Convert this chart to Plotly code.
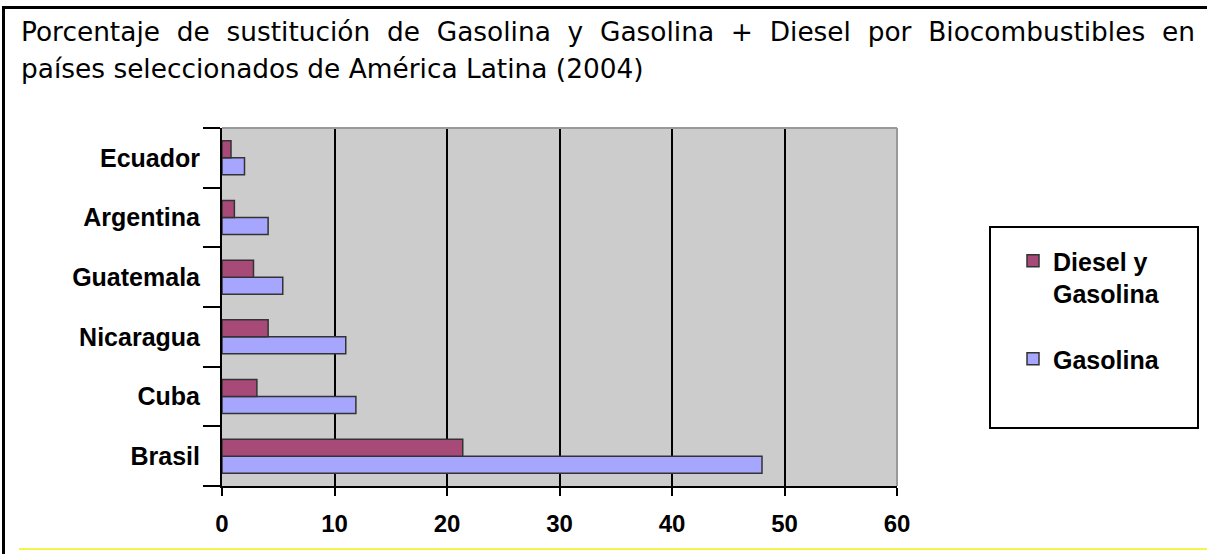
import plotly.graph_objects as go

# ---- data ----
countries = ["Brasil", "Cuba", "Nicaragua", "Guatemala", "Argentina", "Ecuador"]
gasolina = [48.0, 11.9, 11.0, 5.4, 4.1, 2.0]
diesel_gasolina = [21.4, 3.1, 4.1, 2.8, 1.1, 0.8]
x_ticks = [0, 10, 20, 30, 40, 50, 60]
name_diesel = "Diesel y<br>Gasolina"
name_gasolina = "Gasolina"
title_line1_words = ["Porcentaje", "de", "sustitución", "de", "Gasolina", "y",
                     "Gasolina", "+", "Diesel", "por", "Biocombustibles", "en"]
title_line2 = "países seleccionados de América Latina (2004)"

# ---- layout geometry (pixels) ----
W, H = 1207, 554
L, R, T, B = 222, 897, 128, 486


def fx(px):
    return (px - L) / (R - L)


def fy(py):
    return (B - py) / (B - T)


def bold(size):
    return dict(family="Liberation Sans, Arial, sans-serif", size=size,
                color="black", weight="bold")


fig = go.Figure()
fig.add_trace(go.Bar(
    y=countries, x=gasolina, orientation="h", name=name_gasolina,
    legendgroup="g", legendrank=2,
    marker=dict(color="#A6A6FF", line=dict(color="#333333", width=1.5)),
))
fig.add_trace(go.Bar(
    y=countries, x=diesel_gasolina, orientation="h", name=name_diesel,
    legendgroup="d", legendrank=1,
    marker=dict(color="#A84A78", line=dict(color="#333333", width=1.5)),
))

# justified first title line: uniform widened word gaps
line1 = "&nbsp;&nbsp;".join(title_line1_words)

shapes = [
    # plot area top and right borders (gray)
    dict(type="line", xref="paper", yref="paper", x0=0, x1=1, y0=1, y1=1,
         line=dict(color="#999999", width=2), layer="above"),
    dict(type="line", xref="paper", yref="paper", x0=1, x1=1, y0=0, y1=1,
         line=dict(color="#999999", width=2), layer="above"),
    # legend box
    dict(type="rect", xref="paper", yref="paper", x0=fx(990), x1=fx(1198),
         y0=fy(428), y1=fy(227), line=dict(color="black", width=2)),
    # outer frame: top and left
    dict(type="line", xref="paper", yref="paper", x0=fx(3), x1=fx(1207),
         y0=fy(7.5), y1=fy(7.5), line=dict(color="black", width=3)),
    dict(type="line", xref="paper", yref="paper", x0=fx(3.5), x1=fx(3.5),
         y0=fy(6), y1=fy(554), line=dict(color="black", width=3)),
    # bottom yellow rule
    dict(type="line", xref="paper", yref="paper", x0=fx(19), x1=fx(1207),
         y0=fy(549), y1=fy(549), line=dict(color="#F4F44A", width=2)),
]

title_font = dict(family="DejaVu Sans, Verdana, sans-serif", size=26.4, color="black")
annotations = [
    dict(text=line1, xref="paper", yref="paper", x=fx(19), y=fy(31),
         xanchor="left", yanchor="middle", showarrow=False, font=title_font),
    dict(text=title_line2, xref="paper", yref="paper", x=fx(19), y=fy(68),
         xanchor="left", yanchor="middle", showarrow=False, font=title_font),
]

fig.update_layout(
    width=W, height=H,
    margin=dict(l=L, r=W - R, t=T, b=H - B, pad=0),
    paper_bgcolor="white", plot_bgcolor="#CCCCCC",
    barmode="group", bargap=0.43, bargroupgap=0,
    showlegend=True,
    legend=dict(
        x=fx(1013), y=fy(238), xanchor="left", yanchor="top",
        bgcolor="rgba(0,0,0,0)", borderwidth=0,
        traceorder="grouped", tracegroupgap=30,
        font=bold(25), valign="top", itemwidth=30,
    ),
    xaxis=dict(
        range=[0, 60], tickvals=x_ticks, ticktext=[str(v) for v in x_ticks],
        showgrid=True, gridcolor="black", gridwidth=2,
        zeroline=False, showline=True, linecolor="black", linewidth=2,
        ticks="outside", ticklen=8, tickwidth=2, tickcolor="black",
        tickfont=bold(24), ticklabelstandoff=7, fixedrange=True,
    ),
    yaxis=dict(
        categoryorder="array", categoryarray=countries,
        showgrid=False, zeroline=False,
        showline=True, linecolor="black", linewidth=2,
        ticks="outside", tickson="boundaries", ticklen=17, tickwidth=2, tickcolor="black",
        tickfont=bold(25), ticklabelstandoff=15, fixedrange=True,
    ),
    shapes=shapes,
    annotations=annotations,
)

fig.write_html("out.html", config={"displayModeBar": False},
               post_script="document.body.style.margin='0';")
